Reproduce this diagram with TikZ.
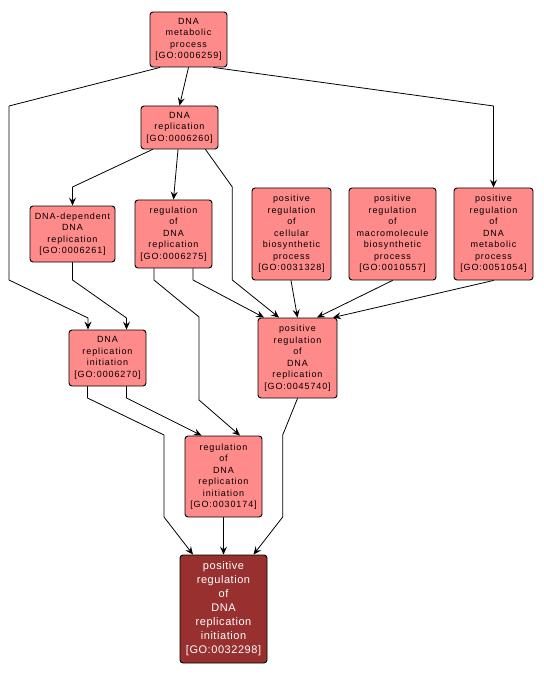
\documentclass[tikz,border=0pt]{standalone}
\usepackage{fontspec}
\usetikzlibrary{arrows.meta}
\newfontfamily\gofont[LetterSpace=10]{Liberation Sans}
\newfontfamily\gofontdark[LetterSpace=5]{Liberation Sans}
\definecolor{termfill}{RGB}{255,138,138}
\definecolor{focusfill}{RGB}{153,48,48}
\begin{document}
\begin{tikzpicture}[
    x=1pt,
    y=-1pt,
    line cap=round,
    line join=round,
    term/.style={
        draw,
        line width=0.9pt,
        rounded corners=3pt,
        fill=termfill,
        align=center,
        inner sep=0pt,
        font=\gofont\fontsize{9}{11.5}\selectfont
    },
    focus/.style={
        term,
        fill=focusfill,
        text=white,
        font=\gofontdark\fontsize{11}{14}\selectfont
    },
    edge/.style={
        line width=0.8pt,
        -{Stealth[length=8pt,width=7pt,inset=3pt]}
    }
]

\useasboundingbox (0,0) rectangle (543,676);

% =================================================
% Термины GO
% =================================================

\node[term, minimum width=77pt, minimum height=55pt] (GO6259) at (188.5,39.5)
    {DNA\\metabolic\\process\\{[}GO:0006259{]}};
\node[term, minimum width=77pt, minimum height=43pt] (GO6260) at (179.5,127.5)
    {DNA\\replication\\{[}GO:0006260{]}};

\node[term, minimum width=85pt, minimum height=56pt] (GO6261) at (72.5,234)
    {DNA-dependent\\DNA\\replication\\{[}GO:0006261{]}};
\node[term, minimum width=77pt, minimum height=68pt] (GO6275) at (173.5,234)
    {regulation\\of\\DNA\\replication\\{[}GO:0006275{]}};
\node[term, minimum width=79pt, minimum height=92pt] (GO31328) at (291.5,234)
    {positive\\regulation\\of\\cellular\\biosynthetic\\process\\{[}GO:0031328{]}};
\node[term, minimum width=87pt, minimum height=92pt] (GO10557) at (392.5,234)
    {positive\\regulation\\of\\macromolecule\\biosynthetic\\process\\{[}GO:0010557{]}};
\node[term, minimum width=79pt, minimum height=92pt] (GO51054) at (493.5,234)
    {positive\\regulation\\of\\DNA\\metabolic\\process\\{[}GO:0051054{]}};

\node[term, minimum width=77pt, minimum height=56pt] (GO6270) at (107.5,358)
    {DNA\\replication\\initiation\\{[}GO:0006270{]}};
\node[term, minimum width=79pt, minimum height=80pt] (GO45740) at (297.5,358)
    {positive\\regulation\\of\\DNA\\replication\\{[}GO:0045740{]}};

\node[term, minimum width=77pt, minimum height=81pt] (GO30174) at (223.5,476.5)
    {regulation\\of\\DNA\\replication\\initiation\\{[}GO:0030174{]}};

\node[focus, minimum width=87pt, minimum height=108pt] (GO32298) at (223.5,609)
    {positive\\regulation\\of\\DNA\\replication\\initiation\\{[}GO:0032298{]}};

% =================================================
% Связи от DNA metabolic process
% =================================================

\draw[edge] (GO6259.south) -- (GO6260.north);
\draw[edge] ([xshift=-28.5pt]GO6259.south) -- (9,106) -- (9,280) -- (88,318)
    -- ([xshift=-19.5pt]GO6270.north);
\draw[edge] ([xshift=25pt]GO6259.south) -- (493.5,106) -- (GO51054.north);

% =================================================
% Связи от DNA replication
% =================================================

\draw[edge] ([xshift=-27pt]GO6260.south) -- (72.5,187) -- (GO6261.north);
\draw[edge] ([xshift=-1.5pt]GO6260.south) -- (GO6275.north);
\draw[edge] ([xshift=26pt]GO6260.south) -- (232.3,187) -- (232.3,280)
    -- ([xshift=-18.5pt]GO45740.north);

% =================================================
% Средний уровень
% =================================================

\draw[edge] (GO6261.south) -- (72.5,280) -- (126.5,318)
    -- ([xshift=19pt]GO6270.north);
\draw[edge] ([xshift=-19.5pt]GO6275.south) -- (154,280) -- (199,317) -- (199,400)
    -- ([xshift=16.5pt]GO30174.north);
\draw[edge] ([xshift=19.5pt]GO6275.south) -- (193,280)
    -- ([xshift=-33.5pt]GO45740.north);
\draw[edge] ([xshift=-0.5pt]GO31328.south) -- (GO45740.north);
\draw[edge] (GO10557.south) -- ([xshift=19.5pt]GO45740.north);
\draw[edge] (GO51054.south) -- ([xshift=35.5pt]GO45740.north);

% =================================================
% Нижний уровень
% =================================================

\draw[edge] ([xshift=19pt]GO6270.south) -- (126.5,398)
    -- ([xshift=-22pt]GO30174.north);
\draw[edge] ([xshift=-20pt]GO6270.south) -- (87.5,398) -- (164,435) -- (164,517)
    -- ([xshift=-30.5pt]GO32298.north);
\draw[edge] (GO30174.south) -- (GO32298.north);
\draw[edge] (GO45740.south) -- (282.7,435) -- (282.7,517)
    -- ([xshift=30pt]GO32298.north);

\end{tikzpicture}
\end{document}
